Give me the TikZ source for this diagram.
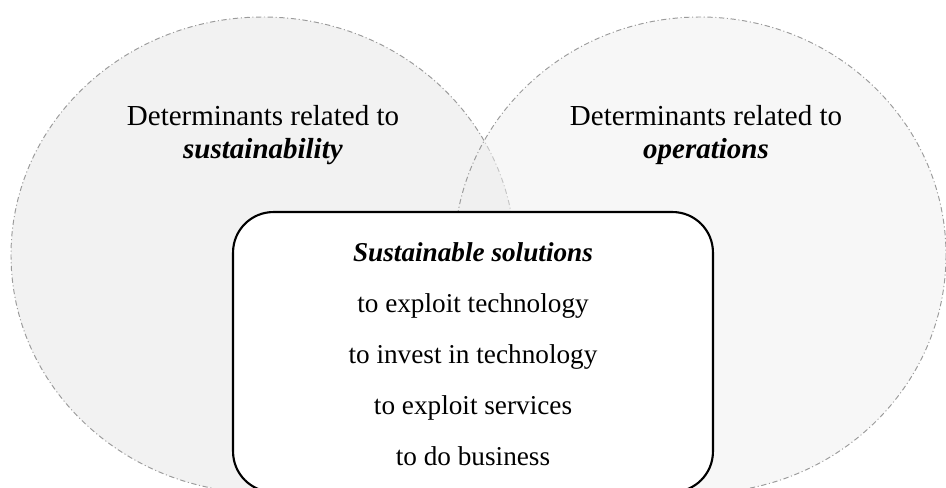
\documentclass[tikz,border=0pt]{standalone}
\usepackage{fontspec}
\setmainfont{Liberation Serif}
\usepackage{tikz}
\usetikzlibrary{positioning}
\definecolor{ringgray}{RGB}{155, 155, 155}

\begin{document}
\begin{tikzpicture}[
    x=0.02cm, y=-0.02cm,
    area/.style={
        draw=ringgray, line width=0.55pt,
        dash pattern=on 3pt off 1.5pt on 0.6pt off 1.5pt
    },
    heading/.style={
        align=center, inner sep=0pt,
        font=\fontsize{16.5}{19}\selectfont
    },
    solution/.style={
        rectangle, draw=black, line width=1.2pt, fill=white,
        rounded corners=23pt,
        minimum width=9.6cm, minimum height=5.6cm
    },
    items/.style={
        align=center, inner sep=0pt,
        font=\fontsize{15.5}{29}\selectfont
    },
]

\useasboundingbox (0,0) rectangle (946,487);
\clip (0,0) rectangle (946,487);

% Two overlapping areas
\path[area, fill=black!5] (263,255) ellipse [x radius=252, y radius=238];
\path[area, fill=black!6, fill opacity=0.5] (700,255) ellipse [x radius=246, y radius=238];

% Area titles
\node[heading] (sust) at (263,135)
    {Determinants related to\\\textbf{\textit{sustainability}}};
\node[heading] (oper) at (706,135)
    {Determinants related to\\\textbf{\textit{operations}}};

% Solutions box, running off the bottom
\node[solution] (box) at (473,352) {};
\node[items, below=0.62cm of box.north] (list)
    {\textbf{\textit{Sustainable solutions}}\\
     to exploit technology\\
     to invest in technology\\
     to exploit services\\
     to do business};

\end{tikzpicture}
\end{document}
